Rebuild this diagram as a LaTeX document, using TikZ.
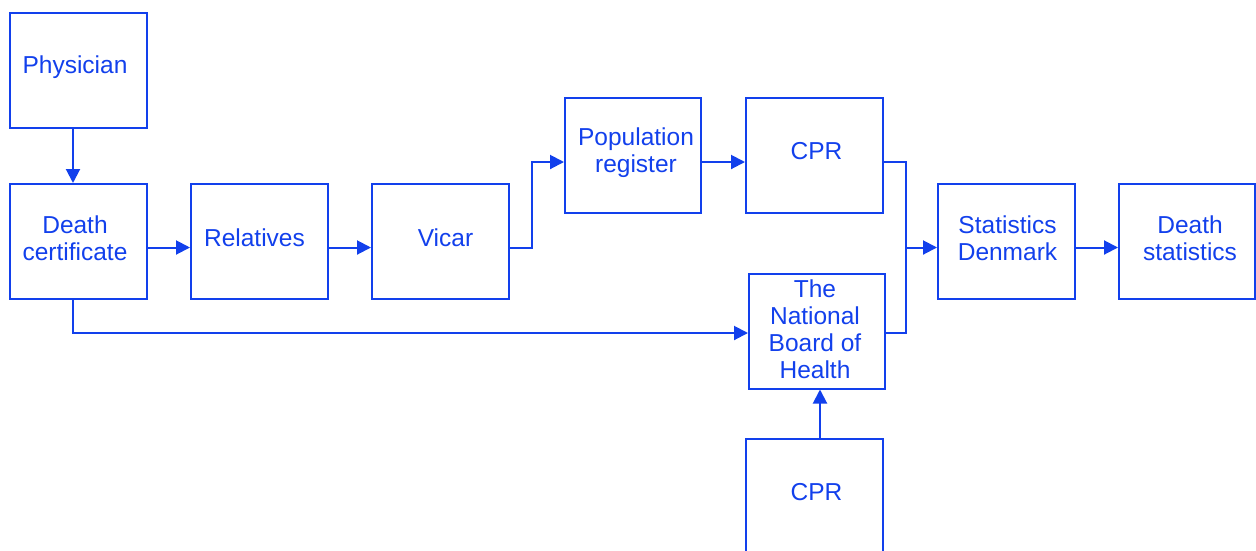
\documentclass[tikz,border=0pt]{standalone}
\usepackage{fontspec}
\setmainfont{Liberation Sans}
\usetikzlibrary{arrows.meta}
\definecolor{dblue}{RGB}{18,64,236}
\begin{document}
\begin{tikzpicture}[x=1pt,y=1pt,
  box/.style={draw=dblue, line width=2pt, minimum width=137pt, minimum height=115pt, inner sep=0pt},
  txt/.style={text=dblue, inner sep=0pt, align=center, font=\fontsize{24.5}{27}\selectfont},
  arr/.style={draw=dblue, line width=2pt, -{Triangle[length=14pt,width=14pt]}},
  ln/.style={draw=dblue, line width=2pt}]
\useasboundingbox (0,0) rectangle (1256,-550);
\begin{scope}
\clip (0,0) rectangle (1256,-550);
\node[box] (phys) at (78.5,-70.5) {};
\node[box] (dc) at (78.5,-241.5) {};
\node[box] (rel) at (259.5,-241.5) {};
\node[box] (vic) at (440.5,-241.5) {};
\node[box, minimum width=136pt] (pop) at (633,-155.5) {};
\node[box] (cpr1) at (814.5,-155.5) {};
\node[box, minimum width=136pt] (nbh) at (817,-331) {};
\node[box] (sd) at (1006.5,-241.5) {};
\node[box, minimum width=136pt] (ds) at (1187,-241.5) {};
\node[box] (cpr2) at (814.5,-496.5) {};

\node[txt] (physT) at (75,-67) {Physician};
\node[txt] (dcT) at (75,-238.5) {Death\\certificate};
\node[txt] (relT) at (254.5,-237.5) {Relatives};
\node[txt] (vicT) at (445.5,-237.5) {Vicar};
\node[txt] (popT) at (636,-153) {Population\\register};
\node[txt] (cpr1T) at (816.5,-151.5) {CPR};
\node[txt] (nbhT) at (815,-329) {The\\National\\Board of\\Health};
\node[txt] (sdT) at (1007.5,-238.5) {Statistics\\Denmark};
\node[txt] (dsT) at (1190,-238.5) {Death\\statistics};
\node[txt] (cpr2T) at (816.5,-492.5) {CPR};

\draw[arr] ([xshift=-5.5pt]phys.south) -- ([xshift=-5.5pt]dc.north);
\draw[arr] ([yshift=-6pt]dc.east) -- ([yshift=-6pt]rel.west);
\draw[arr] ([yshift=-6pt]rel.east) -- ([yshift=-6pt]vic.west);
\coordinate (j1) at (532,-247.5);
\draw[arr] ([yshift=-6pt]vic.east) -- (j1) |- ([yshift=-6.5pt]pop.west);
\draw[arr] ([yshift=-6.5pt]pop.east) -- ([yshift=-6.5pt]cpr1.west);
\coordinate (j2) at (906,-162);
\coordinate (j3) at (906,-333);
\draw[ln] ([yshift=-6.5pt]cpr1.east) -- (j2) -- (j3) -- ([yshift=-2pt]nbh.east);
\draw[arr] (j2 |- sd.west) ++(0,-6pt) -- ([yshift=-6pt]sd.west);
\coordinate (j4) at (73,-333);
\draw[arr] ([xshift=-5.5pt]dc.south) -- (j4) -- ([yshift=-2pt]nbh.west);
\draw[arr] ([xshift=5.5pt]cpr2.north) -- ([xshift=3pt]nbh.south);
\draw[arr] ([yshift=-6pt]sd.east) -- ([yshift=-6pt]ds.west);
\end{scope}
\end{tikzpicture}
\end{document}
